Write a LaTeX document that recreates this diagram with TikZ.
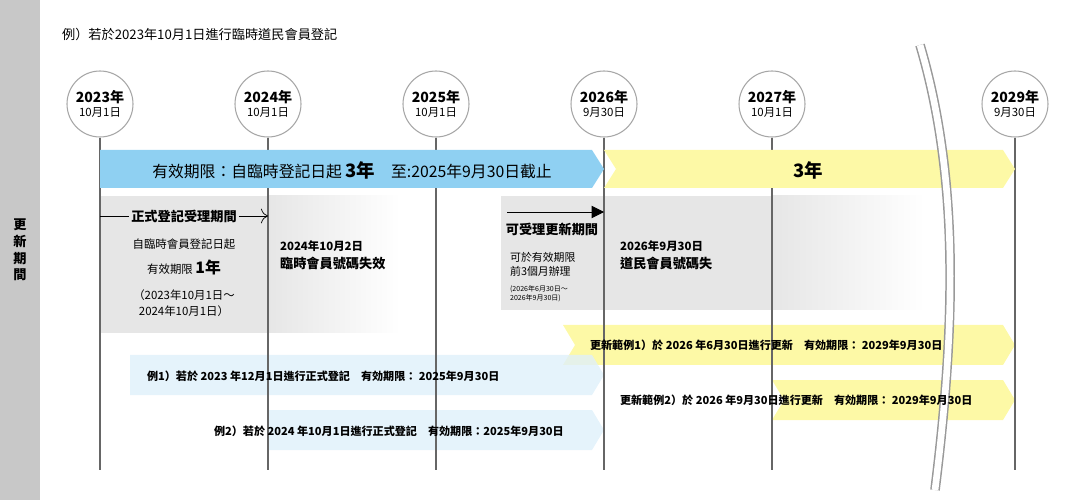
\documentclass[tikz,border=0pt]{standalone}
\usepackage{fontspec}
\setmainfont{Noto Sans CJK TC}
\usetikzlibrary{arrows.meta}
\definecolor{sidegray}{HTML}{C8C8C8}
\definecolor{bandblue}{HTML}{8FD0F2}
\definecolor{paleblue}{HTML}{DFF0FA}
\definecolor{bandyellow}{HTML}{FDF9A6}
\definecolor{boxgray}{HTML}{E6E6E6}
\definecolor{linegray}{HTML}{666666}

\begin{document}
\begin{tikzpicture}[x=0.02cm,y=-0.02cm,
    yearmark/.style = {
      draw = gray!70,
      fill = white,
      circle,
      line width = 0.6pt,
      minimum size = 66*0.02cm,
      inner sep = 0pt,
      align = center,
      font = \fontsize{6.5}{8}\selectfont
    },
    txt/.style = {
      font = \fontsize{6.5}{9}\selectfont,
      align = center,
      inner sep = 1pt
    },
    guide/.style = {linegray, line width = 0.6pt}
  ]
  \useasboundingbox (0,0) rectangle (1080,500);
  \fill[sidegray] (0,0) rectangle (40,500);
  \node[txt, font=\fontsize{7.5}{9.5}\bfseries] (side) at (20,250) {更\\新\\期\\間};
  \node[txt, anchor=west, font=\fontsize{7.5}{9}\selectfont] (title) at (60,34) {例）若於2023年10月1日進行臨時道民會員登記};

  % grey boxes
  \fill[boxgray] (100,196) rectangle (268,333);
  \shade[left color=boxgray, right color=white] (268,196) rectangle (400,333);
  \fill[boxgray] (501,196) rectangle (772,310);
  \shade[left color=boxgray, right color=white] (772,196) rectangle (925,310);

  % year circles and guide lines
  \foreach \x/\nm/\yr/\dt in {100/a/2023/10月1日, 268/b/2024/10月1日, 436/c/2025/10月1日,
      604/d/2026/9月30日, 772/e/2027/10月1日, 1015/f/2029/9月30日} {
    \coordinate (\nm end) at (\x,470);
    \node[yearmark] (\nm) at (\x,104) {{\fontsize{8}{9}\bfseries \yr 年}\\\dt};
    \draw[guide] (\nm) -- (\nm end);
  }

  % main bands
  \fill[bandblue] (100,150) -- (592,150) -- (604,169) -- (592,188) -- (100,188) -- cycle;
  \fill[bandyellow] (604,150) -- (1003,150) -- (1015,169) -- (1003,188) -- (604,188) -- (616,169) -- cycle;
  \node[txt, font=\fontsize{9}{10}\selectfont] (valid) at (352,170)
    {有效期限：自臨時登記日起 {\fontsize{10.5}{10}\bfseries 3年}\quad 至:2025年9月30日截止};
  \node[txt, font=\fontsize{10.5}{10}\bfseries] (three) at (808,170) {3年};

  % example arrows
  \fill[bandyellow] (563,325) -- (1003,325) -- (1015,345) -- (1003,365) -- (563,365) -- (575,345) -- cycle;
  \fill[bandyellow] (772,380) -- (1003,380) -- (1015,400) -- (1003,420) -- (772,420) -- (784,400) -- cycle;
  \fill[paleblue, opacity=0.8] (130,355) -- (592,355) -- (604,375) -- (592,395) -- (130,395) -- cycle;
  \fill[paleblue, opacity=0.8] (268,410) -- (592,410) -- (604,430) -- (592,450) -- (268,450) -- cycle;

  \foreach \x in {100,268,436,604,772,1015} \draw[guide] (\x,196) -- (\x,470);

  % break mark
  \draw[gray!80, line width=5.5pt] (920,45) .. controls (960,180) and (955,330) .. (935,490);
  \draw[white, line width=3.8pt] (920,45) .. controls (960,180) and (955,330) .. (935,490);

  % texts
  \node[txt, font=\fontsize{7.5}{9}\bfseries] (accept) at (184,216) {正式登記受理期間};
  \draw[line width=0.4pt] (100,216) -- (accept.west);
  \draw[-{To[length=4pt]}, line width=0.4pt] (accept.east) -- (268,216);
  \node[txt] (temp) at (184,244) {自臨時會員登記日起};
  \node[txt] (oneyr) at (184,267) {有效期限 {\fontsize{9}{9}\bfseries 1年}};
  \node[txt] (range) at (184,303) {（2023年10月1日～\\2024年10月1日）};
  \node[txt, anchor=west, align=left, font=\fontsize{7.5}{10}\bfseries] (lose1) at (278,255) {\fontsize{6.5}{9}\selectfont 2024年10月2日\\臨時會員號碼失效};
  \coordinate (renew start) at (507,212);
  \coordinate (renew end) at (604,212);
  \draw[-{Triangle[length=7pt,width=7pt]}, line width=0.5pt] (renew start) -- (renew end);
  \node[txt, font=\fontsize{7.5}{9}\bfseries] (renew) at (552,229) {可受理更新期間};
  \node[txt, anchor=west, align=left, font=\fontsize{6.2}{8}\selectfont] (before) at (508,264) {可於有效期限\\前3個月辦理};
  \node[txt, anchor=west, align=left, font=\fontsize{4}{5}\selectfont] (brange) at (508,294) {(2026年6月30日～\\2026年9月30日)};
  \node[txt, anchor=west, align=left, font=\fontsize{7.5}{10}\bfseries] (lose2) at (618,255) {\fontsize{6.5}{9}\selectfont 2026年9月30日\\道民會員號碼失};

  \node[txt, anchor=west, font=\fontsize{6.3}{8}\bfseries] (ren1) at (588,345) {更新範例1）於 2026 年6月30日進行更新\quad 有効期限： 2029年9月30日};
  \node[txt, anchor=west, font=\fontsize{6.3}{8}\bfseries] (ren2) at (618,400) {更新範例2）於 2026 年9月30日進行更新\quad 有効期限： 2029年9月30日};
  \node[txt, anchor=west, font=\fontsize{6.3}{8}\bfseries] (ex1) at (145,376) {例1）若於 2023 年12月1日進行正式登記\quad 有効期限： 2025年9月30日};
  \node[txt, anchor=west, font=\fontsize{6.3}{8}\bfseries] (ex2) at (212,431) {例2）若於 2024 年10月1日進行正式登記\quad 有効期限：2025年9月30日};
\end{tikzpicture}
\end{document}
